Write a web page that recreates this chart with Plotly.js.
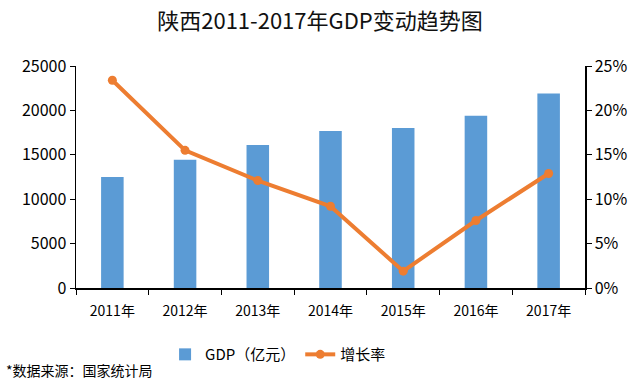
<!DOCTYPE html>
<html>
<head>
<meta charset="utf-8">
<script src="https://cdn.plot.ly/plotly-3.0.1.min.js"></script>
<style>html,body{margin:0;padding:0;background:#fff;}#chart{width:640px;height:383px;}</style>
</head>
<body>
<div id="chart"></div>
<script>
const categories = ['2011年','2012年','2013年','2014年','2015年','2016年','2017年'];
const gdp = [12512, 14454, 16100, 17690, 18022, 19400, 21899];
const growth = [0.234, 0.155, 0.121, 0.092, 0.019, 0.076, 0.129];
const leftTicks = [0, 5000, 10000, 15000, 20000, 25000];
const leftTickText = ['0','5000','10000','15000','20000','25000'];
const rightTicks = [0, 0.05, 0.10, 0.15, 0.20, 0.25];
const rightTickText = ['0%','5%','10%','15%','20%','25%'];

const FONT = '"Noto Sans CJK SC", "Noto Sans", sans-serif';

const traces = [
  {
    type: 'bar', x: categories, y: gdp, name: 'GDP（亿元）',
    marker: {color: '#5B9BD5'}, width: 0.31, yaxis: 'y'
  },
  {
    type: 'scatter', mode: 'lines+markers', x: categories, y: growth, name: '增长率',
    line: {color: '#ED7D31', width: 4}, marker: {color: '#ED7D31', size: 9},
    yaxis: 'y2'
  }
];

const layout = {
  width: 640, height: 383,
  margin: {l: 76, r: 55, t: 66, b: 95},
  paper_bgcolor: '#fff', plot_bgcolor: '#fff',
  font: {family: FONT, color: '#000', size: 14},
  title: {text: '陕西2011-2017年GDP变动趋势图', font: {family: FONT, size: 22, color: '#111', weight: 'normal'}, x: 0.5, xanchor: 'center', y: 0.945, yanchor: 'middle'},
  showlegend: true,
  legend: {orientation: 'h', x: 0.175, xanchor: 'left', y: -0.30, yanchor: 'middle', font: {family: FONT, size: 15}, itemwidth: 30},
  xaxis: {
    type: 'category', showgrid: false, showline: true, linecolor: '#000', linewidth: 1.5,
    ticks: 'outside', tickson: 'boundaries', ticklen: 5, tickcolor: '#000',
    tickfont: {family: FONT, size: 14}, zeroline: false, ticklabelstandoff: 10
  },
  yaxis: {
    range: [0, 25000], tickvals: leftTicks, ticktext: leftTickText, showgrid: false, showline: true, linecolor: '#000', linewidth: 1.5,
    ticks: 'outside', ticklen: 5, tickcolor: '#000', zeroline: false,
    tickfont: {family: FONT, size: 16}
  },
  yaxis2: {
    range: [0, 0.25], overlaying: 'y', side: 'right', tickvals: rightTicks, ticktext: rightTickText,
    showgrid: false, showline: true, linecolor: '#000', linewidth: 1.5,
    ticks: 'outside', ticklen: 5, tickcolor: '#000', zeroline: false,
    tickfont: {family: FONT, size: 16}
  },
  annotations: [
    {text: '*数据来源：国家统计局', xref: 'paper', yref: 'paper', x: -0.142, y: -0.37, xanchor: 'left', yanchor: 'middle', showarrow: false, font: {family: FONT, size: 14, color: '#000'}}
  ]
};

Plotly.newPlot('chart', traces, layout, {displayModeBar: false, staticPlot: true});
</script>
</body>
</html>
